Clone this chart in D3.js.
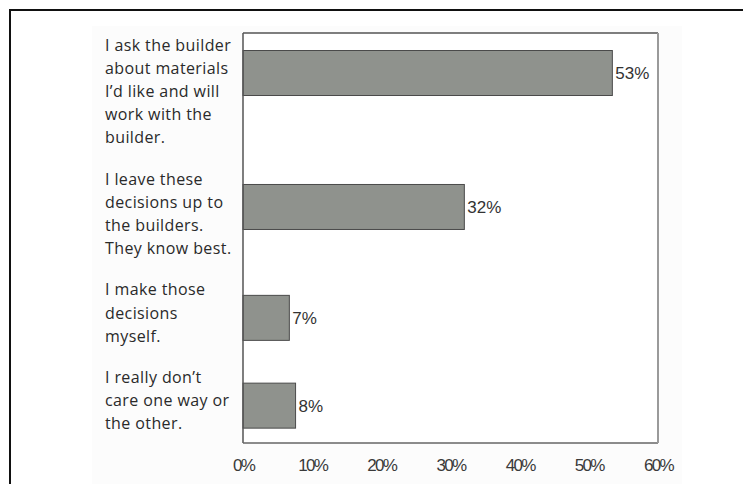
<!DOCTYPE html>
<html>
<head>
<meta charset="utf-8">
<script src="https://cdn.jsdelivr.net/npm/d3@7"></script>
<style>
  html, body { margin: 0; padding: 0; background: #fff; }
  svg { display: block; }
</style>
</head>
<body>
<svg id="chart" width="743" height="484"></svg>
<script>
// ---- data ----
const categories = [
  ["I ask the builder", "about materials", "I\u2019d like and will", "work with the", "builder."],
  ["I leave these", "decisions up to", "the builders.", "They know best."],
  ["I make those", "decisions", "myself."],
  ["I really don\u2019t", "care one way or", "the other."]
];
const values = [53.4, 32, 6.7, 7.6];
const valueLabels = ["53%", "32%", "7%", "8%"];
const tickValues = [0, 10, 20, 30, 40, 50, 60];
const tickLabels = ["0%", "10%", "20%", "30%", "40%", "50%", "60%"];

// ---- layout ----
const svg = d3.select("#chart");
const plot = { left: 243, right: 658, top: 33, bottom: 443 };

// outer frame
svg.append("rect").attr("x", 10).attr("y", 10).attr("width", 800).attr("height", 600)
  .attr("fill", "none").attr("stroke", "#111").attr("stroke-width", 2);
// faint background panel
svg.append("rect").attr("x", 92).attr("y", 26).attr("width", 590).attr("height", 470)
  .attr("fill", "#fcfcfc");

const x = d3.scaleLinear().domain([0, 60]).range([plot.left, plot.right]);

// vertical layout in "line units": blocks of text lines with gaps
const gapLines = 1.8;
const starts = [];
let cur = 0;
categories.forEach(lines => { starts.push(cur); cur += (lines.length - 1) + gapLines; });
const yLine = d3.scaleLinear().domain([0, 1]).range([45, 68.1]);
const barOffset = 5.5, barH = 45;

// plot area
svg.append("rect").attr("x", plot.left).attr("y", plot.top)
  .attr("width", plot.right - plot.left).attr("height", plot.bottom - plot.top)
  .attr("fill", "#fff");

// bars
svg.selectAll("rect.bar").data(values).join("rect")
  .attr("class", "bar")
  .attr("x", x(0))
  .attr("y", (d, i) => yLine(starts[i]) + barOffset)
  .attr("width", d => x(d) - x(0))
  .attr("height", barH)
  .attr("fill", "#8f928d")
  .attr("stroke", "#4a4a4a")
  .attr("stroke-width", 1);

// value labels
svg.selectAll("text.val").data(values).join("text")
  .attr("class", "val")
  .attr("x", d => x(d) + 3)
  .attr("y", (d, i) => yLine(starts[i]) + barOffset + barH / 2)
  .attr("dy", "0.35em")
  .attr("font-family", "'Liberation Sans', Arial, sans-serif")
  .attr("font-size", 17)
  .attr("fill", "#333")
  .text((d, i) => valueLabels[i]);

// plot frame: left/top/bottom darker, right lighter
svg.append("line").attr("x1", plot.left).attr("x2", plot.left).attr("y1", plot.top).attr("y2", plot.bottom)
  .attr("stroke", "#555").attr("stroke-width", 1.5);
svg.append("line").attr("x1", plot.left).attr("x2", plot.right).attr("y1", plot.top).attr("y2", plot.top)
  .attr("stroke", "#555").attr("stroke-width", 1.5);
svg.append("line").attr("x1", plot.left).attr("x2", plot.right).attr("y1", plot.bottom).attr("y2", plot.bottom)
  .attr("stroke", "#666").attr("stroke-width", 1.5);
svg.append("line").attr("x1", plot.right).attr("x2", plot.right).attr("y1", plot.top).attr("y2", plot.bottom)
  .attr("stroke", "#9a9a9a").attr("stroke-width", 2);

// x axis (labels only)
const xAxis = d3.axisBottom(x).tickValues(tickValues)
  .tickFormat((d, i) => tickLabels[i]).tickSize(0).tickPadding(0);
const gx = svg.append("g").attr("transform", `translate(0,${plot.bottom + 16})`).call(xAxis);
gx.select(".domain").remove();
gx.selectAll("text")
  .attr("font-family", "'Liberation Sans', Arial, sans-serif")
  .attr("font-size", 17)
  .attr("letter-spacing", "-1.7px")
  .attr("fill", "#3a3a3a");

// category labels
const lab = svg.append("g");
categories.forEach((lines, i) => {
  lines.forEach((line, j) => {
    lab.append("text")
      .attr("x", 105)
      .attr("y", yLine(starts[i] + j))
      .attr("dy", "0.35em")
      .attr("font-family", "'Open Sans', sans-serif")
      .attr("font-size", 16)
      .attr("letter-spacing", "0.4px")
      .attr("fill", "#2a2a2a")
      .text(line);
  });
});
</script>
</body>
</html>
